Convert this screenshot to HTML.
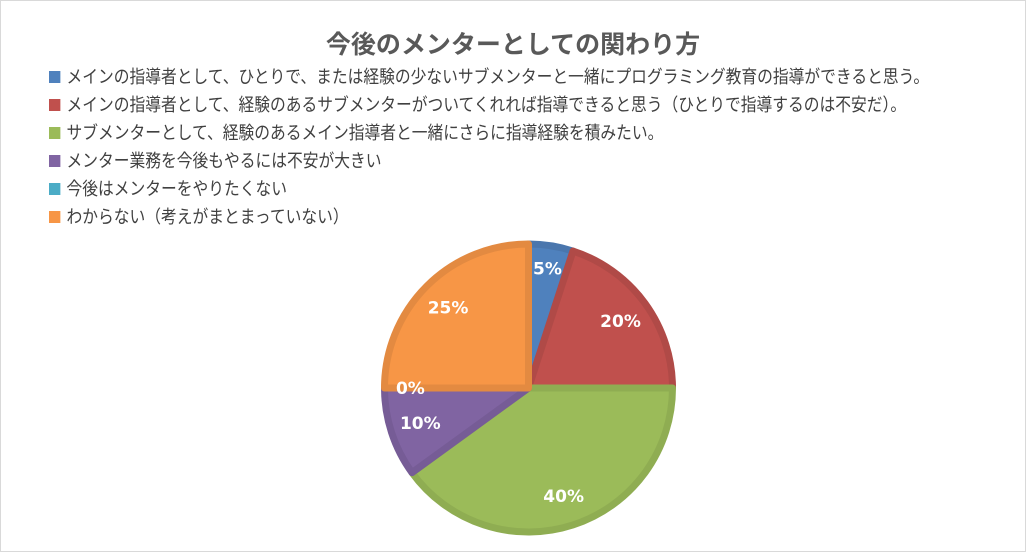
<!DOCTYPE html>
<html><head><meta charset="utf-8">
<style>
body{margin:0;background:#fff;}
#wrap{position:relative;width:1024px;height:550px;border:1px solid #d9d9d9;background:#fff;font-family:"Liberation Sans","Noto Sans CJK JP",sans-serif;overflow:hidden;}
#title{position:absolute;left:0;width:1024px;top:24px;text-align:center;font-size:25px;font-weight:bold;color:#595959;}
.leg{position:absolute;left:48px;font-size:18px;color:#404040;white-space:nowrap;line-height:22px;transform:scaleX(0.875);transform-origin:0 0;}
.leg span.sw{display:inline-block;width:13px;height:12px;margin-right:7px;vertical-align:0px;}
</style></head><body>
<div id="wrap">
<div id="title">今後のメンターとしての関わり方</div>
<div id="legend"></div>
<svg id="pie" width="1024" height="550" style="position:absolute;left:0;top:0"></svg>
</div>
<script>
const categories=["メインの指導者として、ひとりで、または経験の少ないサブメンターと一緒にプログラミング教育の指導ができると思う。","メインの指導者として、経験のあるサブメンターがついてくれれば指導できると思う（ひとりで指導するのは不安だ）。","サブメンターとして、経験のあるメイン指導者と一緒にさらに指導経験を積みたい。","メンター業務を今後もやるには不安が大きい","今後はメンターをやりたくない","わからない（考えがまとまっていない）"];
const values=[5,20,40,10,0,25];
const colors=["#4f81bd","#c0504d","#9bbb59","#8064a2","#4bacc6","#f79646"];
const strokes=["#4a76ad","#b04a47","#8fad52","#765c96","#459fb7","#e38a41"];
const legend=document.getElementById('legend');
categories.forEach((c,i)=>{
  const d=document.createElement('div');
  d.className='leg';
  d.style.top=(65+i*28)+'px';
  
  
  d.innerHTML='<span class="sw" style="background:'+colors[i]+'"></span>'+c;
  legend.appendChild(d);
});
const svg=document.getElementById('pie');
const NS='http://www.w3.org/2000/svg';
const cx=527.5,cy=387,R=144;
const total=values.reduce((a,b)=>a+b,0);
function pt(a,r){return [cx+r*Math.sin(a),cy-r*Math.cos(a)];}
let a0=0;
values.forEach((v,i)=>{
  const a1=a0+v/total*2*Math.PI;
  if(v>0){
    const p0=pt(a0,R),p1=pt(a1,R);
    const large=(a1-a0)>Math.PI?1:0;
    const path=document.createElementNS(NS,'path');
    path.setAttribute('d',`M${cx},${cy} L${p0[0]},${p0[1]} A${R},${R} 0 ${large} 1 ${p1[0]},${p1[1]} Z`);
    path.setAttribute('fill',colors[i]);
    path.setAttribute('stroke',strokes[i]);
    path.setAttribute('stroke-width','7');
    path.setAttribute('stroke-linejoin','round');
    
    
    svg.appendChild(path);
  }
  a0=a1;
});
a0=0;
values.forEach((v,i)=>{
  const a1=a0+v/total*2*Math.PI;
  const m=(a0+a1)/2;
  const p=pt(m,v===0?R*0.82:(v<=5?R*0.84:R*0.79));
  const t=document.createElementNS(NS,'text');
  t.setAttribute('x',p[0]);t.setAttribute('y',p[1]+6);
  t.setAttribute('text-anchor','middle');
  t.setAttribute('fill','#fff');
  t.setAttribute('font-size','17');
  t.setAttribute('font-weight','bold');
  t.setAttribute('font-family','"DejaVu Sans","Liberation Sans",sans-serif');
  
  
  t.textContent=v+'%';
  svg.appendChild(t);
  a0=a1;
});
</script>
</body></html>
